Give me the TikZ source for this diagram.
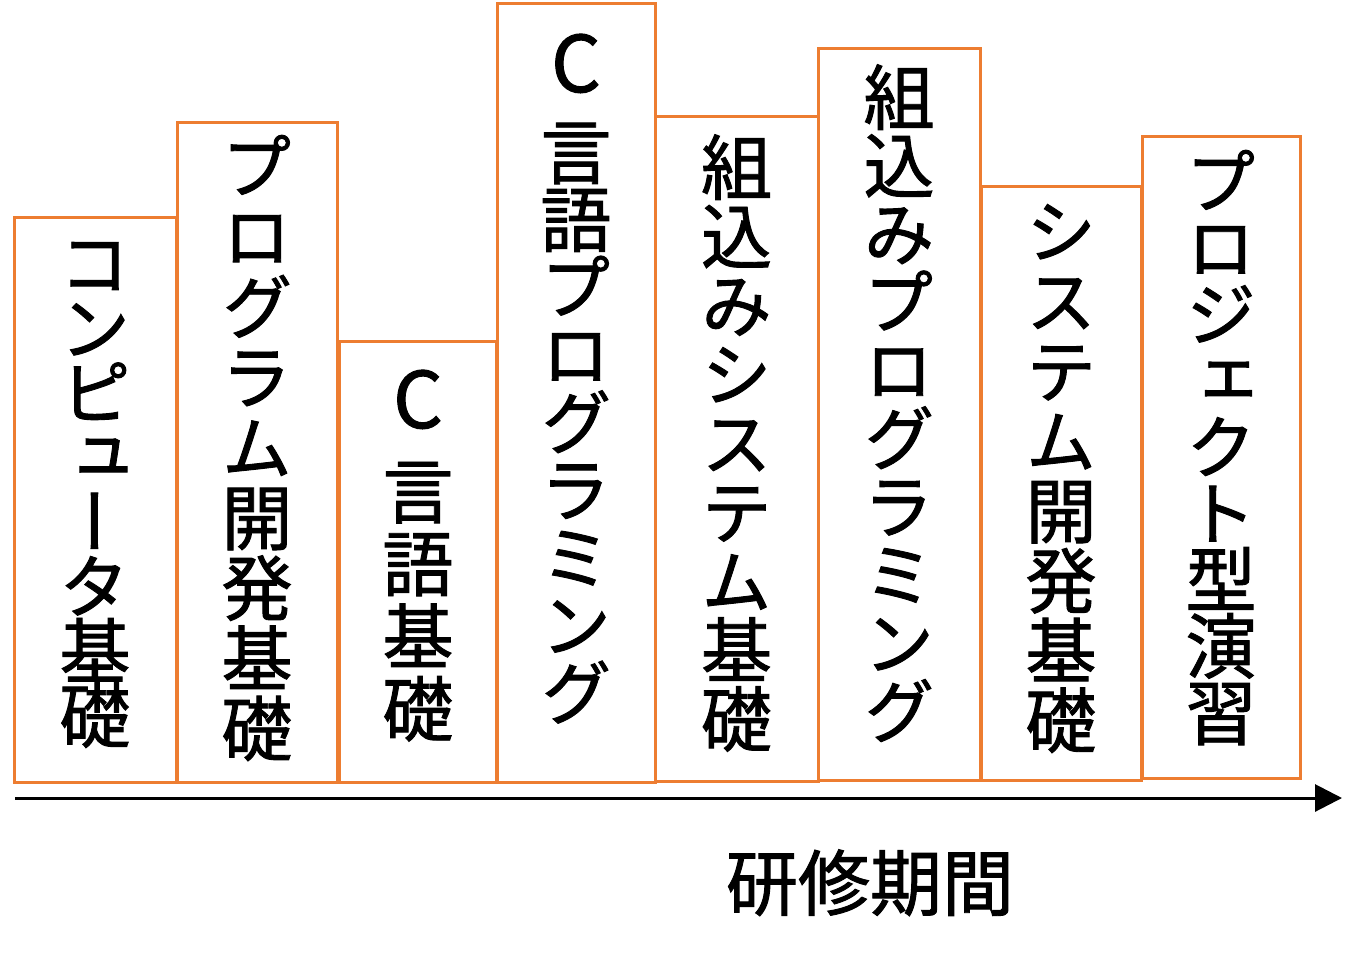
\documentclass[tikz,border=0pt]{standalone}
\usepackage{fontspec}
\usetikzlibrary{arrows.meta}
\newfontfamily\jpv[RawFeature=+vert,FakeBold=1.3]{Noto Sans CJK JP}
\newfontfamily\jph[FakeBold=1.3]{Noto Sans CJK JP}
\definecolor{boxorange}{HTML}{ED7D31}
\makeatletter
\newcommand\vlist[1]{\@tfor\vch:=#1\do{\hbox to 0pt{\hss\vch\hss}}}
\makeatother
\newcommand\vset[1]{\baselineskip=#1pt\lineskiplimit=-1000pt\lineskip=0pt}
\newcommand\vs[2]{\vtop{\vset{#1}\vlist{#2}}}
\newcommand\vC{\hbox to 0pt{\hss{\fontsize{78}{78}\selectfont C}\hss}}
\tikzset{
  course/.style={draw=boxorange, line width=3pt, fill=white},
  vtxt/.style={anchor=base, inner sep=0pt, font=\jpv\fontsize{71}{71}\selectfont},
  htxt/.style={anchor=base, inner sep=0pt, font=\jph\fontsize{72}{72}\selectfont},
  axis/.style={line width=3pt, -{Triangle[length=27pt,width=27pt]}}
}
\begin{document}
\begin{tikzpicture}[x=1pt,y=-1pt]
\useasboundingbox (0,0) rectangle (1371,978);
% boxes
\draw[course] (14.5,217) rectangle (176,782);
\draw[course] (177.5,122) rectangle (337,782);
\draw[course] (339.5,341) rectangle (496,782);
\draw[course] (497,3.5) rectangle (655,782);
\draw[course] (655,116.5) rectangle (818,781);
\draw[course] (818,48) rectangle (980,780);
\draw[course] (981,186) rectangle (1141,780);
\draw[course] (1142,136) rectangle (1300,778);
% vertical texts
\node[vtxt] (t1) at (95,290) {\vs{64.6}{コンピュータ基礎}};
\node[vtxt] (t2) at (257,193) {\vs{70.3}{プログラム開発基礎}};
\node[vtxt] (t3) at (418,428) {\vtop{\vset{72.7}\vC\vskip 17pt\vlist{言語基礎}}};
\node[vtxt] (t4) at (576,92) {\vtop{\vset{67.6}\vC\vskip 19pt\vlist{言語プログラミング}}};
\node[vtxt] (t5) at (736.5,194) {\vs{69}{組込みシステム基礎}};
\node[vtxt] (t6) at (899,124) {\vs{68.2}{組込みプログラミング}};
\node[vtxt] (t7) at (1061,258) {\vs{69.9}{システム開発基礎}};
\node[vtxt] (t8) at (1221,208) {\vs{66.4}{プロジェクト型演習}};
% time axis
\coordinate (a0) at (15,798);
\coordinate (a1) at (1342,798);
\draw[axis] (a0) -- (a1);
\node[htxt] (lbl) at (870,910) {研修期間};
\end{tikzpicture}
\end{document}
